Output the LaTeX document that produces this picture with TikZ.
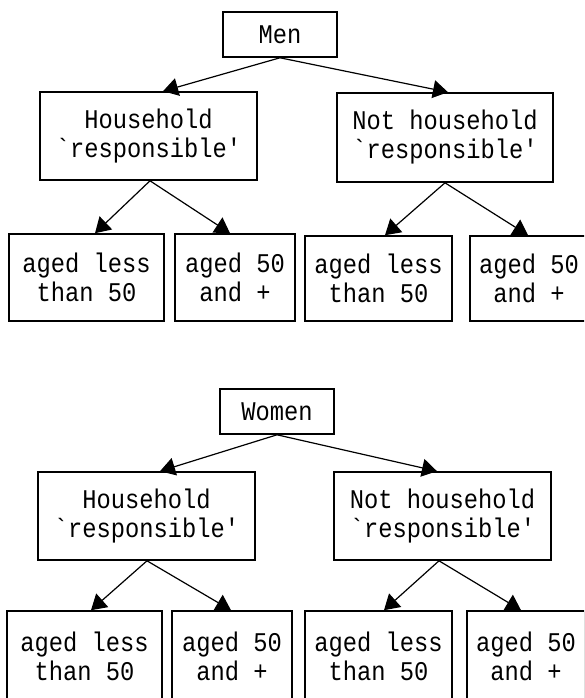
\documentclass[tikz,border=0pt]{standalone}
\usepackage{fontspec}
\setmonofont{Liberation Mono}[FakeStretch=0.88]
\usetikzlibrary{arrows.meta}
\begin{document}
\begin{tikzpicture}[x=1pt,y=-1pt,
  box/.style={draw, line width=1.6pt, rectangle, inner sep=0pt, align=center,
    font=\ttfamily\fontsize{27}{29}\selectfont},
  arr/.style={line width=1.2pt, -{Triangle[length=15pt,width=18pt]}}]
\useasboundingbox (0,0) rectangle (584,698);
\clip (0,0) rectangle (584,698);
\fill[white] (0,0) rectangle (584,698);
% ---- Men tree
\node[box, minimum width=114pt, minimum height=45pt] (men) at (280,34.5) {Men};
\node[box, minimum width=217pt, minimum height=88pt] (hh) at (148.5,136) {Household\\`responsible′};
\node[box, minimum width=216pt, minimum height=89pt] (nh) at (445,137.5) {Not household\\`responsible′};
\node[box, minimum width=155pt, minimum height=87pt] (b1) at (86.5,277.5) {aged less\\than 50};
\node[box, minimum width=120pt, minimum height=87pt] (b2) at (235,277.5) {aged 50\\and +};
\node[box, minimum width=147pt, minimum height=85pt] (b3) at (378.5,278.5) {aged less\\than 50};
\node[box, minimum width=118pt, minimum height=85pt] (b4) at (529,278.5) {aged 50\\and +};
\draw[arr] (men.south) -- ([xshift=14.5pt]hh.north);
\draw[arr] (men.south) -- ([xshift=3pt]nh.north);
\draw[arr] ([xshift=1.5pt]hh.south) -- ([xshift=8.5pt]b1.north);
\draw[arr] ([xshift=1.5pt]hh.south) -- ([xshift=-5pt]b2.north);
\draw[arr] (nh.south) -- ([xshift=6.5pt]b3.north);
\draw[arr] (nh.south) -- ([xshift=-1pt]b4.north);
% ---- Women tree
\node[box, minimum width=114pt, minimum height=45pt] (women) at (277,411.5) {Women};
\node[box, minimum width=217pt, minimum height=88pt] (hh2) at (146.5,516) {Household\\`responsible′};
\node[box, minimum width=217pt, minimum height=88pt] (nh2) at (442.5,516) {Not household\\`responsible′};
\node[box, minimum width=155pt, minimum height=90pt] (c1) at (84.5,656) {aged less\\than 50};
\node[box, minimum width=120pt, minimum height=90pt] (c2) at (232,656) {aged 50\\and +};
\node[box, minimum width=147pt, minimum height=90pt] (c3) at (378.5,656) {aged less\\than 50};
\node[box, minimum width=118pt, minimum height=90pt] (c4) at (526,656) {aged 50\\and +};
\draw[arr] (women.south) -- ([xshift=13.5pt]hh2.north);
\draw[arr] (women.south) -- ([xshift=-5.5pt]nh2.north);
\draw[arr] ([xshift=0.5pt]hh2.south) -- ([xshift=6.5pt]c1.north);
\draw[arr] ([xshift=0.5pt]hh2.south) -- ([xshift=-1pt]c2.north);
\draw[arr] ([xshift=-3.5pt]nh2.south) -- ([xshift=5.5pt]c3.north);
\draw[arr] ([xshift=-3.5pt]nh2.south) -- ([xshift=-5pt]c4.north);
\end{tikzpicture}
\end{document}
